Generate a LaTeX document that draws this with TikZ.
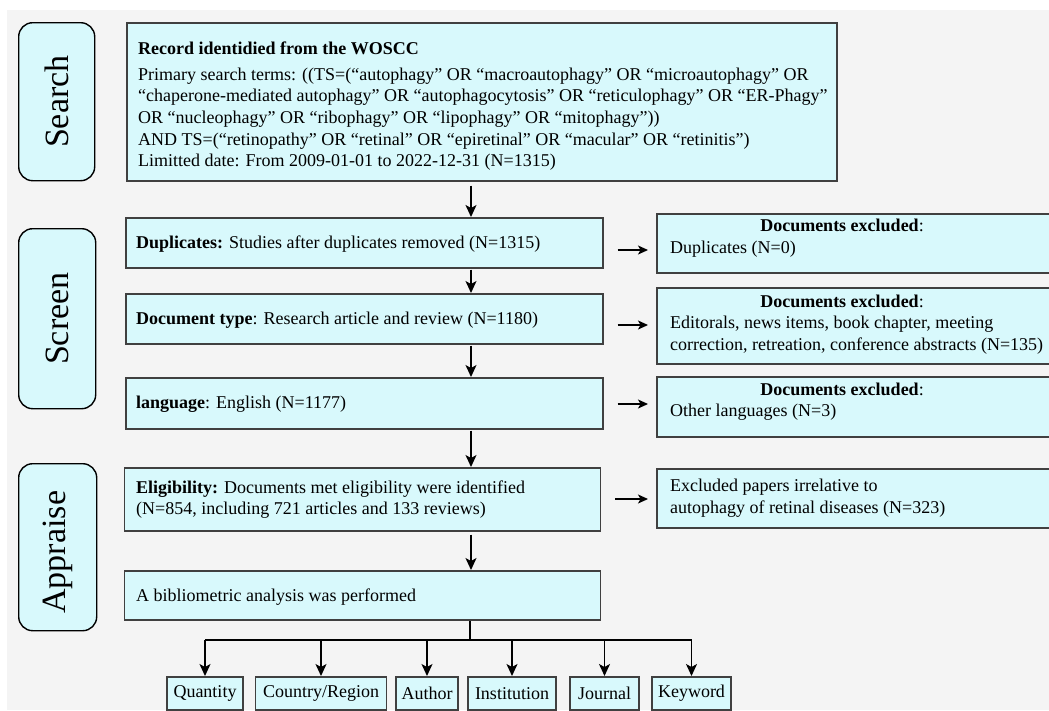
\documentclass[tikz,border=0pt]{standalone}
\usepackage{fontspec}
\setmainfont{Liberation Serif}
\usetikzlibrary{arrows.meta}
\definecolor{bgc}{HTML}{F4F4F4}
\definecolor{boxfill}{HTML}{D8F9FC}
\definecolor{boxline}{HTML}{404040}
\begin{document}
\begin{tikzpicture}[x=1pt,y=-1pt,
  box/.style={draw=boxline, line width=1.5pt, fill=boxfill, inner sep=0pt, anchor=north west},
  stagebox/.style={draw=black, line width=1.4pt, fill=boxfill, rounded corners=14pt, inner sep=0pt, anchor=north west},
  stagetxt/.style={rotate=90, inner sep=0pt, font=\fontsize{34}{34}\selectfont},
  txt/.style={inner sep=0pt, anchor=base west, font=\fontsize{18}{21.7}\selectfont},
  ctxt/.style={inner sep=0pt, anchor=base, font=\fontsize{18}{21.7}\selectfont},
  arr/.style={line width=1.4pt, -{Stealth[length=12pt,width=11pt,inset=3pt]}},
  sarr/.style={line width=1.3pt, -{Stealth[length=10pt,width=9pt,inset=2.5pt]}},
  ln/.style={line width=1.4pt}
]
\useasboundingbox (0,0) rectangle (1049,710);
\path[clip] (0,0) rectangle (1049,710);
\fill[white] (0,0) rectangle (1049,710);
\fill[bgc] (7,10) rectangle (1049,710);

% stage boxes
\node[stagebox, minimum width=76pt, minimum height=158pt] (search) at (18,22) {};
\node[stagetxt] (searchT) at (search.center) {Search};
\node[stagebox, minimum width=77pt, minimum height=180pt] (screen) at (18,228) {};
\node[stagetxt] (screenT) at (screen.center) {Screen};
\node[stagebox, minimum width=78pt, minimum height=167pt] (appraise) at (18,463) {};
\node[stagetxt] (appraiseT) at ([yshift=-5pt]appraise.center) {Appraise};

% main search box
\node[box, minimum width=710pt, minimum height=158pt] (main) at (126,22) {};
\node[txt] (m0) at (138,54) {\textbf{Record identidied from the WOSCC}};
\node[txt] (m1) at (138,80) {Primary search terms: ((TS=(“autophagy” OR “macroautophagy” OR “microautophagy” OR};
\node[txt] (m2) at (138,101.7) {“chaperone-mediated autophagy” OR “autophagocytosis” OR “reticulophagy” OR “ER-Phagy”};
\node[txt] (m3) at (138,123.4) {OR “nucleophagy” OR “ribophagy” OR “lipophagy” OR “mitophagy”))};
\node[txt] (m4) at (138,145.1) {AND TS=(“retinopathy” OR “retinal” OR “epiretinal” OR “macular” OR “retinitis”)};
\node[txt] (m5) at (138,166.8) {Limitted date: From 2009-01-01 to 2022-12-31 (N=1315)};

% screen boxes
\node[box, minimum width=477pt, minimum height=50pt] (dup) at (125,217) {};
\node[txt] (dupT) at (136,248) {\textbf{Duplicates:} Studies after duplicates removed (N=1315)};
\node[box, minimum width=477pt, minimum height=50pt] (doc) at (125,293) {};
\node[txt] (docT) at (136,324) {\textbf{Document type}: Research article and review (N=1180)};
\node[box, minimum width=477pt, minimum height=51pt] (lang) at (125,377) {};
\node[txt] (langT) at (136,408) {\textbf{language}: English (N=1177)};

% appraise boxes
\node[box, minimum width=476pt, minimum height=63pt] (elig) at (123.5,467) {};
\node[txt] (eligT1) at (136,493) {\textbf{Eligibility:} Documents met eligibility were identified};
\node[txt] (eligT2) at (136,514.7) {(N=854, including 721 articles and 133 reviews)};
\node[box, minimum width=476pt, minimum height=49pt] (bib) at (123.5,570) {};
\node[txt] (bibT) at (136,601) {A bibliometric analysis was performed};

% exclusion boxes
\node[box, minimum width=400pt, minimum height=59pt] (ex1) at (656,213) {};
\node[ctxt] (ex1H) at (842,231.5) {\textbf{Documents excluded}:};
\node[txt] (ex1T) at (670,253.2) {Duplicates (N=0)};
\node[box, minimum width=400pt, minimum height=76pt] (ex2) at (656,287) {};
\node[ctxt] (ex2H) at (842,307) {\textbf{Documents excluded}:};
\node[txt] (ex2T1) at (670,328.7) {Editorals, news items, book chapter, meeting};
\node[txt] (ex2T2) at (670,350.4) {correction, retreation, conference abstracts (N=135)};
\node[box, minimum width=400pt, minimum height=60pt] (ex3) at (656,376) {};
\node[ctxt] (ex3H) at (842,395) {\textbf{Documents excluded}:};
\node[txt] (ex3T) at (670,416.7) {Other languages (N=3)};
\node[box, minimum width=400pt, minimum height=59pt] (ex4) at (656,468) {};
\node[txt] (ex4T1) at (670,491.5) {Excluded papers irrelative to};
\node[txt] (ex4T2) at (670,513.2) {autophagy of retinal diseases (N=323)};

% analysis boxes
\tikzset{sbox/.style={box, anchor=north, minimum height=33pt, font=\fontsize{18}{21.7}\selectfont}}
\node[sbox, minimum width=76pt] (qty) at (205,676) {Quantity};
\node[sbox, minimum width=131pt] (cty) at (321,676) {Country/Region};
\node[sbox, minimum width=62pt] (aut) at (427,676) {Author};
\node[sbox, minimum width=88pt] (ins) at (512,676) {Institution};
\node[sbox, minimum width=69pt] (jou) at (604.5,676) {Journal};
\node[sbox, minimum width=79pt] (key) at (691.5,676) {Keyword};

% vertical flow arrows
\coordinate (ax) at (471,0);
\draw[arr, shorten <=4pt] (main.south -| ax) -- (dup.north -| ax);
\draw[arr, shorten <=1pt] (dup.south -| ax) -- (doc.north -| ax);
\draw[arr, shorten <=1pt] (doc.south -| ax) -- (lang.north -| ax);
\draw[arr, shorten <=1pt] (lang.south -| ax) -- (elig.north -| ax);
\draw[arr, shorten <=3pt] (elig.south -| ax) -- (bib.north -| ax);

% exclusion arrows
\coordinate (e1) at (0,250);
\coordinate (e2) at (0,325);
\coordinate (e3) at (0,404);
\coordinate (e4) at (0,499);
\draw[sarr, shorten <=14pt, shorten >=8pt] (dup.east |- e1) -- (ex1.west |- e1);
\draw[sarr, shorten <=14pt, shorten >=8pt] (doc.east |- e2) -- (ex2.west |- e2);
\draw[sarr, shorten <=14pt, shorten >=8pt] (lang.east |- e3) -- (ex3.west |- e3);
\draw[sarr, shorten <=14pt, shorten >=8pt] (elig.east |- e4) -- (ex4.west |- e4);

% branch
\coordinate (br) at (470,640);
\draw[ln] (br |- bib.south) -- (br);
\draw[ln] (qty.north |- br) -- (key.north |- br);
\foreach \n in {qty,cty,aut,ins,jou,key}{
  \draw[arr] (\n.north |- br) -- (\n.north);
}
\end{tikzpicture}
\end{document}
